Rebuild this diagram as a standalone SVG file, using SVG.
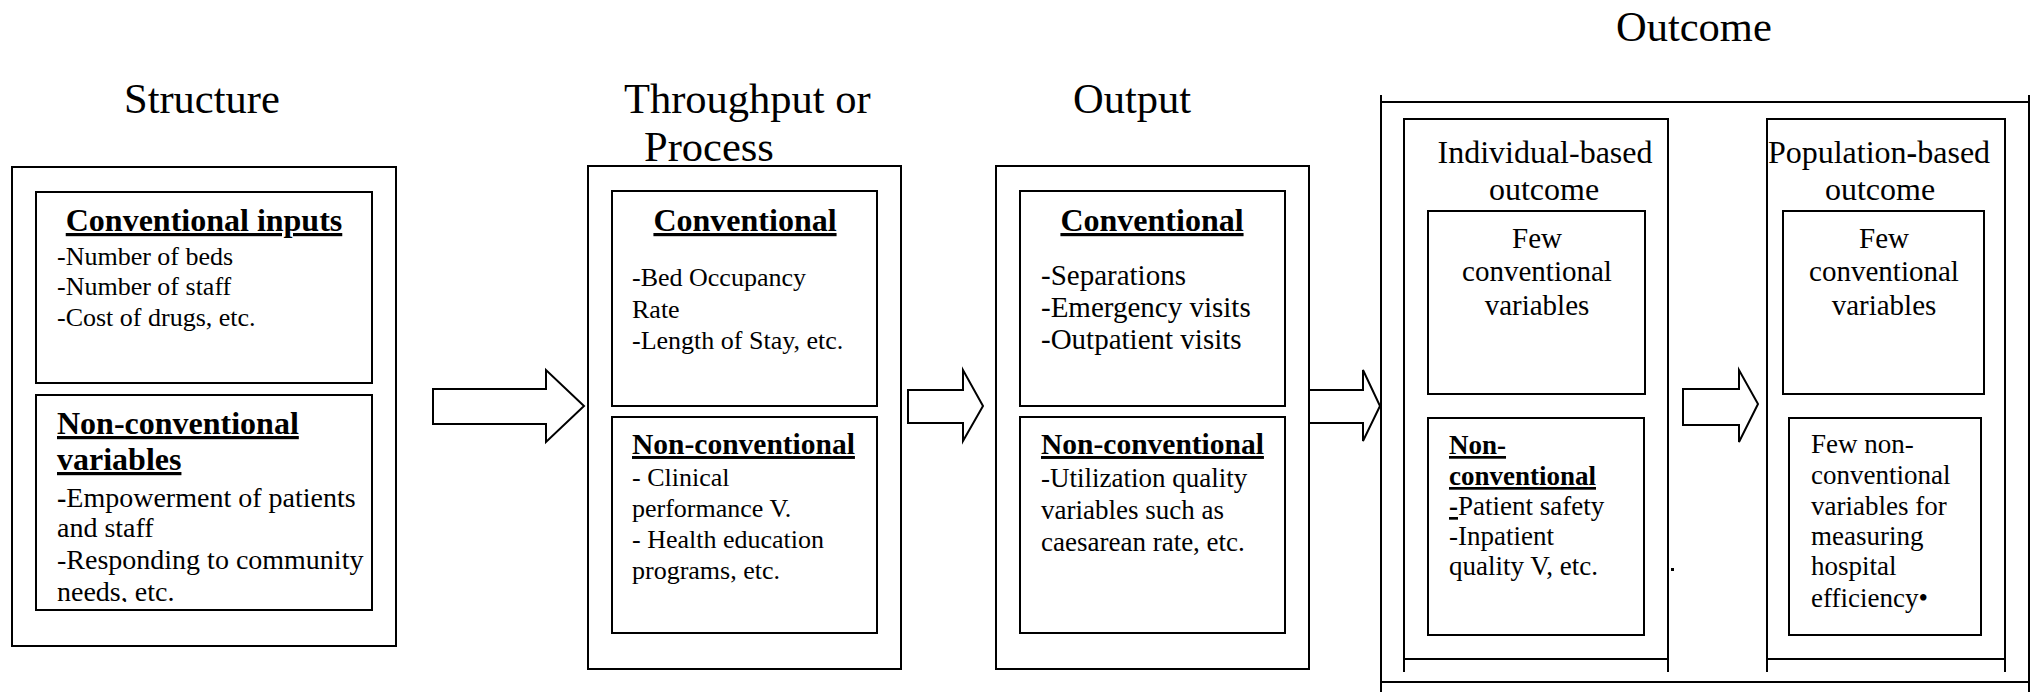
<svg xmlns="http://www.w3.org/2000/svg" width="2038" height="692" viewBox="0 0 2038 692">
<style>
  text { font-family: "Liberation Serif", "Times New Roman", serif; fill: #000; }
  .title { font-size: 42.5px; }
  .hdr { font-size: 32px; font-weight: bold; text-decoration: underline; }
  .hdr2 { font-size: 29.5px; font-weight: bold; text-decoration: underline; }
  .b26 { font-size: 26px; }
  .b27 { font-size: 27px; }
  .b28 { font-size: 28px; }
  .b29 { font-size: 29px; }
  .sub { font-size: 32px; }
  .box { fill: none; stroke: #000; stroke-width: 2; }
  .ln { stroke: #000; stroke-width: 2; fill: none; }
  .arrow { fill: #fff; stroke: #000; stroke-width: 2; stroke-linejoin: miter; }
  .mid { text-anchor: middle; }
</style>
<defs>
  <clipPath id="clipNeeds"><rect x="36" y="540" width="336" height="62"/></clipPath>
</defs>
<rect width="2038" height="692" fill="#fff"/>

<g id="structure">
  <text class="title" x="124" y="113">Structure</text>
  <rect class="box" x="12" y="167" width="384" height="479"/>
  <rect class="box" x="36" y="192" width="336" height="191"/>
  <rect class="box" x="36" y="395" width="336" height="215"/>
  <text class="hdr mid" x="204" y="231">Conventional inputs</text>
  <text class="b26" x="57" y="265">-Number of beds</text>
  <text class="b26" x="57" y="295">-Number of staff</text>
  <text class="b26" x="57" y="326">-Cost of drugs, etc.</text>
  <text class="hdr" x="57" y="434">Non-conventional</text>
  <text class="hdr" x="57" y="470">variables</text>
  <text class="b28" x="57" y="507"><tspan font-weight="bold">-</tspan>Empowerment of patients</text>
  <text class="b28" x="57" y="537">and staff</text>
  <text class="b28" x="57" y="569">-Responding to community</text>
  <text class="b28" x="57" y="601" clip-path="url(#clipNeeds)">needs, etc.</text>
</g>

<g id="throughput">
  <text class="title" x="624" y="113">Throughput or</text>
  <text class="title" x="644" y="161">Process</text>
  <rect class="box" x="588" y="166" width="313" height="503"/>
  <rect class="box" x="612" y="191" width="265" height="215"/>
  <rect class="box" x="612" y="417" width="265" height="216"/>
  <text class="hdr mid" x="745" y="231">Conventional</text>
  <text class="b26" x="632" y="286">-Bed Occupancy</text>
  <text class="b26" x="632" y="318">Rate</text>
  <text class="b26" x="632" y="349">-Length of Stay, etc.</text>
  <text class="hdr2" x="632" y="454">Non-conventional</text>
  <text class="b26" x="632" y="486">- Clinical</text>
  <text class="b26" x="632" y="517">performance V.</text>
  <text class="b26" x="632" y="548">- Health education</text>
  <text class="b26" x="632" y="579">programs, etc.</text>
</g>

<g id="output">
  <text class="title" x="1073" y="113">Output</text>
  <rect class="box" x="996" y="166" width="313" height="503"/>
  <rect class="box" x="1020" y="191" width="265" height="215"/>
  <rect class="box" x="1020" y="417" width="265" height="216"/>
  <text class="hdr mid" x="1152" y="231">Conventional</text>
  <text class="b29" x="1041" y="285">-Separations</text>
  <text class="b29" x="1041" y="317">-Emergency visits</text>
  <text class="b29" x="1041" y="349">-Outpatient visits</text>
  <text class="hdr2" x="1041" y="454">Non-conventional</text>
  <text class="b27" x="1041" y="487">-Utilization quality</text>
  <text class="b27" x="1041" y="519">variables such as</text>
  <text class="b27" x="1041" y="551">caesarean rate, etc.</text>
</g>

<g id="outcome">
  <text class="title" x="1616" y="41">Outcome</text>
  <line class="ln" x1="1381" y1="95" x2="1381" y2="692"/>
  <line class="ln" x1="2029" y1="95" x2="2029" y2="692"/>
  <line class="ln" x1="1381" y1="102" x2="2029" y2="102"/>
  <line class="ln" x1="1381" y1="682" x2="2029" y2="682"/>
  <g id="individual">
    <line class="ln" x1="1404" y1="118" x2="1404" y2="672"/>
    <line class="ln" x1="1668" y1="118" x2="1668" y2="672"/>
    <line class="ln" x1="1403" y1="119" x2="1669" y2="119"/>
    <line class="ln" x1="1404" y1="659" x2="1668" y2="659"/>
    <text class="sub mid" x="1545" y="163">Individual-based</text>
    <text class="sub mid" x="1544" y="200">outcome</text>
    <rect class="box" x="1428" y="211" width="217" height="183"/>
    <text class="b29 mid" x="1537" y="248">Few</text>
    <text class="b29 mid" x="1537" y="281">conventional</text>
    <text class="b29 mid" x="1537" y="315">variables</text>
    <rect class="box" x="1428" y="418" width="216" height="217"/>
    <text class="b27" x="1449" y="454" font-weight="bold" text-decoration="underline">Non-</text>
    <text class="b27" x="1449" y="485" font-weight="bold" text-decoration="underline">conventional</text>
    <text class="b27" x="1449" y="515"><tspan font-weight="bold" text-decoration="underline">-</tspan>Patient safety</text>
    <text class="b27" x="1449" y="545">-Inpatient</text>
    <text class="b27" x="1449" y="575">quality V, etc.</text>
    <rect x="1671" y="568" width="3" height="3" fill="#000"/>
  </g>
  <g id="population">
    <line class="ln" x1="1767" y1="118" x2="1767" y2="672"/>
    <line class="ln" x1="2005" y1="118" x2="2005" y2="672"/>
    <line class="ln" x1="1766" y1="119" x2="2006" y2="119"/>
    <line class="ln" x1="1767" y1="659" x2="2005" y2="659"/>
    <text class="sub mid" x="1879" y="163">Population<tspan font-weight="bold">-</tspan>based</text>
    <text class="sub mid" x="1880" y="200">outcome</text>
    <rect class="box" x="1783" y="211" width="201" height="183"/>
    <text class="b29 mid" x="1884" y="248">Few</text>
    <text class="b29 mid" x="1884" y="281">conventional</text>
    <text class="b29 mid" x="1884" y="315">variables</text>
    <rect class="box" x="1789" y="418" width="192" height="217"/>
    <text class="b27" x="1811" y="453">Few non-</text>
    <text class="b27" x="1811" y="484">conventional</text>
    <text class="b27" x="1811" y="515">variables for</text>
    <text class="b27" x="1811" y="545">measuring</text>
    <text class="b27" x="1811" y="575">hospital</text>
    <text class="b27" x="1811" y="607">efficiency•</text>
  </g>
</g>

<g id="connectors">
  <polygon class="arrow" points="433,389 546,389 546,370 584,406 546,442 546,424 433,424"/>
  <polygon class="arrow" points="908,390 963,390 963,370 983,406 963,441 963,423 908,423"/>
  <polygon class="arrow" points="1309,390 1363,390 1363,370 1380,406 1363,441 1363,423 1309,423"/>
  <polygon class="arrow" points="1683,389 1739,389 1739,370 1758,404 1739,442 1739,425 1683,425"/>
</g>
</svg>
